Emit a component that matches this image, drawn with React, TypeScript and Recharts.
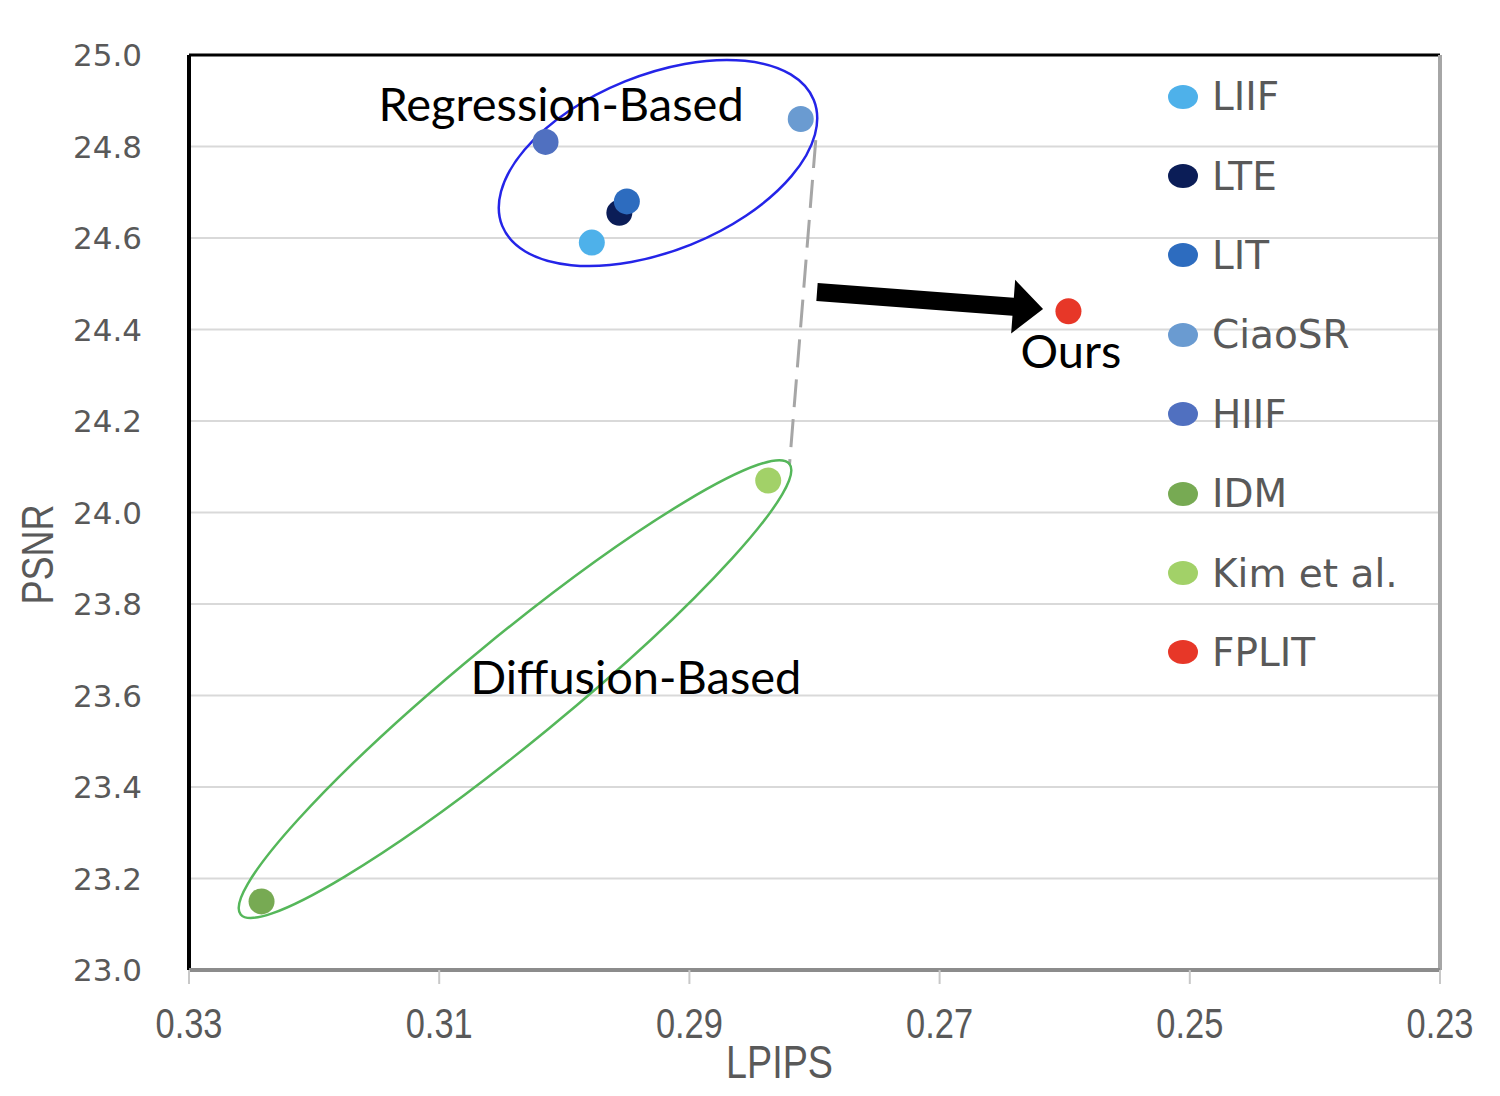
import React from 'react';
import {
  ScatterChart,
  Scatter,
  XAxis,
  YAxis,
  CartesianGrid,
  ReferenceLine,
  ReferenceDot,
  Legend
} from 'recharts';

// method names, LPIPS (x), PSNR (y)
const methods = ['LIIF', 'LTE', 'LIT', 'CiaoSR', 'HIIF', 'IDM', 'Kim et al.', 'FPLIT'];
const lpips = [0.2978, 0.2956, 0.295, 0.2811, 0.3015, 0.3242, 0.2837, 0.2597];
const psnr = [24.59, 24.655, 24.68, 24.86, 24.81, 23.15, 24.07, 24.44];
const colors = ['#4eb1ea', '#0b1d57', '#2d6cbf', '#6a9bd1', '#5070c0', '#77aa53', '#a2d168', '#e73728'];

const xTicks = [0.33, 0.31, 0.29, 0.27, 0.25, 0.23];
const yTicks = [23.0, 23.2, 23.4, 23.6, 23.8, 24.0, 24.2, 24.4, 24.6, 24.8, 25.0];

// annotation anchors (data coords)
const groupLabels = [
  { text: 'Regression-Based', x: 0.30026, y: 24.895 },
  { text: 'Diffusion-Based', x: 0.29427, y: 23.643 },
  { text: 'Ours', x: 0.2595, y: 24.355 }
];
const groupEllipses = [
  { x: 0.29251, y: 24.764, rx: 168, ry: 88, angle: -22, color: '#2424e8' },
  { x: 0.30394, y: 23.614, rx: 355, ry: 52, angle: -39.4, color: '#55b75a' }
];
const dashedLink = [{ x: 0.2799, y: 24.814 }, { x: 0.282, y: 24.104 }];
const arrowLink = [{ x: 0.2798, y: 24.482 }, { x: 0.26173, y: 24.445 }];

const GRAY = '#595959';
const NARROW = "'Liberation Sans', Arial, sans-serif";

const Dot = ({ cx, cy, fill }: any) => <circle cx={cx} cy={cy} r={13} fill={fill} />;

// condensed text like the original Excel export
const XTick = ({ x, y, payload }: any) => (
  <text
    transform={`translate(${x} ${y}) scale(0.82 1)`}
    x={0}
    y={0}
    dy="0.71em"
    textAnchor="middle"
    fill={GRAY}
    fontSize={42}
    fontFamily={NARROW}
  >
    {payload.value.toFixed(2)}
  </text>
);

const YLabel = ({ viewBox }: any) => {
  const cx = 30;
  const cy = viewBox.y + viewBox.height / 2 + 42;
  return (
    <text
      transform={`translate(${cx} ${cy}) rotate(-90) scale(0.82 1)`}
      x={0}
      y={0}
      textAnchor="middle"
      dominantBaseline="central"
      fill={GRAY}
      fontSize={44}
      fontFamily={NARROW}
    >
      PSNR
    </text>
  );
};

const XLabel = ({ viewBox }: any) => (
  <text
    transform={`translate(${viewBox.x + viewBox.width / 2 - 35} 1070) scale(0.82 1)`}
    x={0}
    y={0}
    textAnchor="middle"
    fill={GRAY}
    fontSize={46}
    fontFamily={NARROW}
  >
    LPIPS
  </text>
);

const Arrow = ({ x1, y1, x2, y2 }: any) => {
  const dx = x2 - x1;
  const dy = y2 - y1;
  const len = Math.sqrt(dx * dx + dy * dy);
  const ux = dx / len;
  const uy = dy / len;
  const nx = -uy;
  const ny = ux;
  const headLen = 30;
  const shaft = 9;
  const head = 27;
  const bx = x2 - ux * headLen;
  const by = y2 - uy * headLen;
  const pts = [
    [x1 + nx * shaft, y1 + ny * shaft],
    [bx + nx * shaft, by + ny * shaft],
    [bx + nx * head, by + ny * head],
    [x2, y2],
    [bx - nx * head, by - ny * head],
    [bx - nx * shaft, by - ny * shaft],
    [x1 - nx * shaft, y1 - ny * shaft]
  ]
    .map((p) => p.join(','))
    .join(' ');
  return <polygon points={pts} fill="#000" />;
};

const renderLegend = () => (
  <div>
    {methods.map((m, i) => (
      <div key={m} style={{ display: 'flex', alignItems: 'center', height: 79.4 }}>
        <span
          style={{
            display: 'inline-block',
            width: 30,
            height: 24,
            borderRadius: '50%',
            background: colors[i],
            marginRight: 14
          }}
        />
        <span style={{ fontFamily: 'DejaVu Sans', fontSize: 39, color: GRAY, lineHeight: 1 }}>{m}</span>
      </div>
    ))}
  </div>
);

export default function App() {
  return (
    <div style={{ width: 1484, height: 1080 }}>
      <ScatterChart width={1484} height={1080} margin={{ top: 47, right: 52, bottom: 0, left: 0 }}>
        <CartesianGrid vertical={false} stroke="#d9d9d9" strokeWidth={2} />
        <XAxis
          type="number"
          dataKey="x"
          domain={[0.23, 0.33]}
          ticks={xTicks}
          reversed
          allowDataOverflow
          height={118}
          tickSize={14}
          tickMargin={24}
          tickLine={{ stroke: '#c8c8c8', strokeWidth: 2 }}
          axisLine={{ stroke: '#8c8c8c', strokeWidth: 4 }}
          tick={<XTick />}
          label={<XLabel />}
        />
        <YAxis
          type="number"
          dataKey="y"
          domain={[23, 25]}
          ticks={yTicks}
          allowDataOverflow
          width={181}
          tickSize={0}
          tickMargin={47}
          axisLine={false}
          tickLine={false}
          tickFormatter={(v: number) => v.toFixed(1)}
          tick={{ fill: GRAY, fontSize: 31, fontFamily: 'DejaVu Sans' }}
          label={<YLabel />}
        />
        <ReferenceLine y={25} stroke="#000" strokeWidth={3} />
        <ReferenceLine x={0.33} stroke="#000" strokeWidth={4} />
        <ReferenceLine x={0.23} stroke="#a6a6a6" strokeWidth={4} />
        <ReferenceLine
          segment={dashedLink}
          stroke="#a6a6a6"
          strokeWidth={3}
          strokeDasharray="28 12"
          ifOverflow="visible"
        />
        {groupEllipses.map((e, i) => (
          <ReferenceDot
            key={`ell-${i}`}
            x={e.x}
            y={e.y}
            r={1}
            ifOverflow="visible"
            shape={(p: any) => (
              <ellipse
                cx={p.cx}
                cy={p.cy}
                rx={e.rx}
                ry={e.ry}
                transform={`rotate(${e.angle} ${p.cx} ${p.cy})`}
                fill="none"
                stroke={e.color}
                strokeWidth={2.5}
              />
            )}
          />
        ))}
        {methods.map((m, i) => (
          <Scatter
            key={m}
            name={m}
            data={[{ x: lpips[i], y: psnr[i] }]}
            fill={colors[i]}
            shape={<Dot />}
            isAnimationActive={false}
          />
        ))}
        <ReferenceLine segment={arrowLink} ifOverflow="visible" shape={<Arrow />} />
        {groupLabels.map((t) => (
          <ReferenceDot
            key={t.text}
            x={t.x}
            y={t.y}
            r={1}
            ifOverflow="visible"
            shape={(p: any) => (
              <text
                x={p.cx}
                y={p.cy}
                textAnchor="middle"
                dominantBaseline="central"
                fill="#000"
                fontSize={47}
                fontFamily="Lato, sans-serif"
              >
                {t.text}
              </text>
            )}
          />
        ))}
        <Legend
          layout="vertical"
          align="center"
          verticalAlign="middle"
          content={renderLegend}
          wrapperStyle={{ top: 49, left: 1160, width: 300 }}
        />
      </ScatterChart>
    </div>
  );
}
